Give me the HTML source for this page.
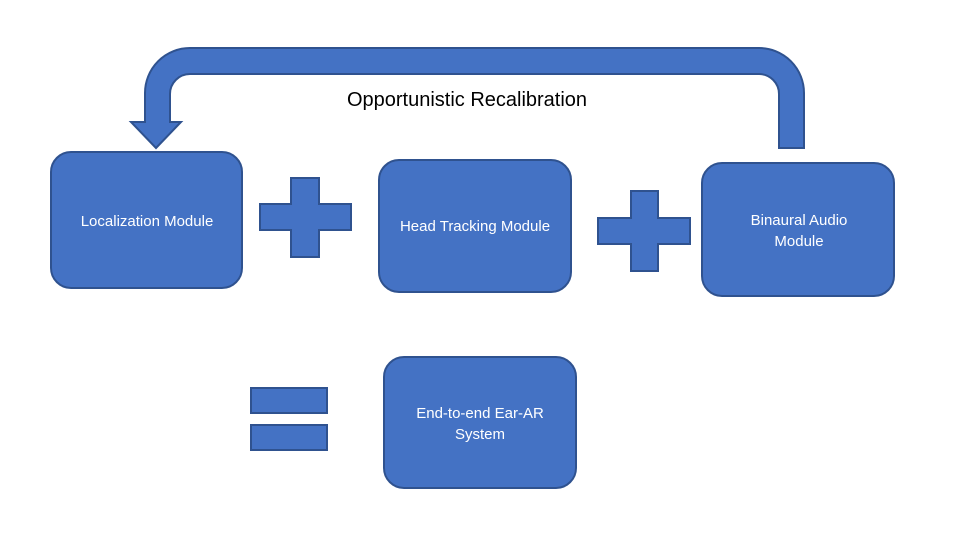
<!DOCTYPE html>
<html><head><style>
body{margin:0;background:#fff;}
svg{display:block;font-family:"Liberation Sans",sans-serif;}
</style></head><body>
<svg width="960" height="540" viewBox="0 0 960 540">
<g fill="#4472C4" stroke="#2F528F" stroke-width="2">
<path d="M804 148 L804 93 A45 45 0 0 0 759 48 L190 48 A45 45 0 0 0 145 93 L145 122 L131 122 L156 148 L181 122 L170 122 L170 94 A20 20 0 0 1 190 74 L759 74 A20 20 0 0 1 779 94 L779 148 Z"/>
<rect x="51" y="152" width="191" height="136" rx="20"/>
<rect x="379" y="160" width="192" height="132" rx="20"/>
<rect x="702" y="163" width="192" height="133" rx="20"/>
<rect x="384" y="357" width="192" height="131" rx="20"/>
<path d="M291 178 H319 V204 H351 V230 H319 V257 H291 V230 H260 V204 H291 Z"/>
<path d="M631 191 H658 V218 H690 V244 H658 V271 H631 V244 H598 V218 H631 Z"/>
<rect x="251" y="388" width="76" height="25"/>
<rect x="251" y="425" width="76" height="25"/>
</g>
<text x="467" y="106" font-size="20" text-anchor="middle" fill="#000">Opportunistic Recalibration</text>
<g fill="#fff" font-size="15" text-anchor="middle">
<text x="147" y="226">Localization Module</text>
<text x="475" y="231">Head Tracking Module</text>
<text x="799" y="225">Binaural Audio</text>
<text x="799" y="246">Module</text>
<text x="480" y="418">End-to-end Ear-AR</text>
<text x="480" y="439">System</text>
</g>
</svg>
</body></html>
